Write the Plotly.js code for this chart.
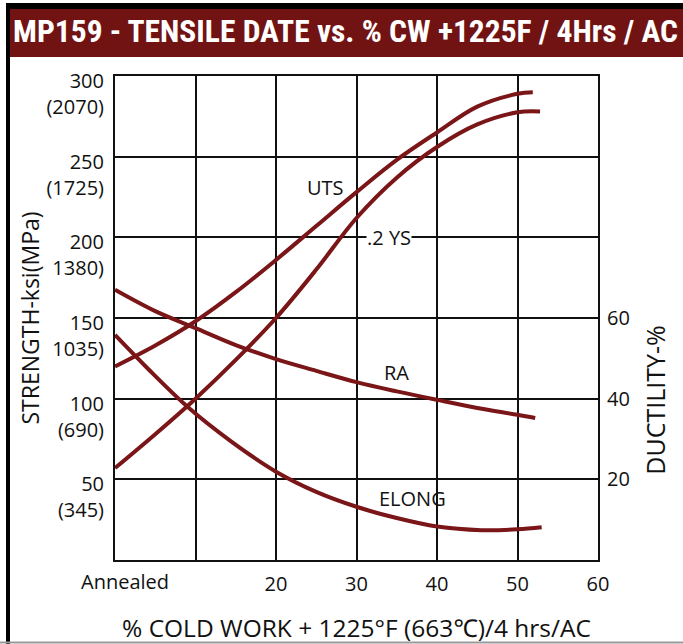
<!DOCTYPE html>
<html>
<head>
<meta charset="utf-8">
<script src="https://cdn.plot.ly/plotly-3.0.1.min.js"></script>
<style>html,body{margin:0;padding:0;background:#fff;}#chart{width:683px;height:644px;}</style>
</head>
<body>
<div id="chart"></div>
<script>
// ---- data ----
const chartTitle = "MP159 - TENSILE DATE vs. % CW +1225F / 4Hrs / AC";
const xTitle = "% COLD WORK + 1225°F (663℃)/4 hrs/AC";
const yTitle = "STRENGTH-ksi(MPa)";
const y2Title = "DUCTILITY-%";

const xTickVals = [0, 10, 20, 30, 40, 50, 60];
const xTickText = ["", "", "20", "30", "40", "50", "60"];
const annealedLabel = "Annealed";

const yTickVals = [0, 50, 100, 150, 200, 250, 300];
const yTickText = ["", "50<br>(345)", "100<br>(690)", "150<br>1035)", "200<br>1380)", "250<br>(1725)", "300<br>(2070)"];
const y2TickVals = [20, 40, 60];
const y2TickText = ["20", "40", "60"];

// Strength, ksi (left axis)
const utsX = [0, 5, 10, 15, 20, 25, 30, 35, 40, 45, 50, 51.9];
const utsY = [120, 133, 148, 166, 186, 207, 228, 248, 265, 281, 289, 290];
const ysX  = [0, 5, 10, 15, 20, 25, 30, 35, 40, 45, 50, 52.8];
const ysY  = [57, 78, 100, 124, 150, 180, 212, 237, 256, 270, 277.5, 278];

// Ductility, % (right axis)
const raX = [0, 5, 10, 15, 20, 25, 30, 35, 40, 45, 50, 52.2];
const raY = [67, 61.7, 57.5, 53.3, 49.8, 46.9, 44.1, 41.8, 39.7, 37.7, 36.0, 35.2];
const elX = [0, 4, 9, 14.5, 20, 25, 30, 35, 40, 45.5, 50, 53];
const elY = [55.8, 47.6, 38.0, 29.3, 21.9, 16.9, 13.2, 10.4, 8.3, 7.4, 7.6, 8.1];

// curve labels
const curveLabels = [
  {text: "UTS",   x: 26.1, y: 231, axis: "y"},
  {text: ".2 YS", x: 34.0, y: 200, axis: "y"},
  {text: "RA",    x: 35.0, y: 46.5, axis: "y2"},
  {text: "ELONG", x: 36.9, y: 15.2, axis: "y2"}
];

// ---- styling ----
const RED = "#7a1518";
const FONT = "Open Sans, Noto Sans, DejaVu Sans, sans-serif";
const lineStyle = {color: RED, width: 4, shape: "spline", smoothing: 1};

const traces = [
  {x: utsX, y: utsY, name: "UTS", mode: "lines", line: lineStyle, yaxis: "y"},
  {x: ysX, y: ysY, name: ".2 YS", mode: "lines", line: lineStyle, yaxis: "y"},
  {x: raX, y: raY, name: "RA", mode: "lines", line: lineStyle, yaxis: "y2"},
  {x: elX, y: elY, name: "ELONG", mode: "lines", line: lineStyle, yaxis: "y2"}
];

const L = 115, R = 85, T = 76, B = 84, W = 683, H = 644;
const pw = W - L - R, ph = H - T - B;
const px = v => (v - L) / pw;           // pixel x -> paper
const py = v => (H - B - v) / ph;        // pixel y -> paper

const annotations = curveLabels.map(c => ({
  text: c.text, x: c.x, y: c.y, xref: "x", yref: c.axis,
  showarrow: false, font: {family: FONT, size: 20, color: "#111"},
  bgcolor: c.text === ".2 YS" ? "#fff" : "rgba(0,0,0,0)", borderpad: 0
}));
annotations.push({
  text: annealedLabel, x: 0, y: 0, xref: "x", yref: "paper",
  xshift: 10, yanchor: "middle", yshift: -21, showarrow: false,
  font: {family: FONT, size: 20, color: "#111"}
});
annotations.push({
  text: y2Title, x: px(655), y: 39.5, xref: "paper", yref: "y2",
  xanchor: "center", yanchor: "middle",
  textangle: -90, showarrow: false, font: {family: FONT, size: 25, color: "#111"}
});

const shapes = [
  // title bar
  {type: "rect", xref: "paper", yref: "paper", x0: px(7), x1: px(690), y0: py(57), y1: py(9),
   fillcolor: "#721313", line: {width: 0}, layer: "below"},
  // top black band
  {type: "rect", xref: "paper", yref: "paper", x0: px(7), x1: px(690), y0: py(9), y1: py(3),
   fillcolor: "#000", line: {width: 0}, layer: "below"},
  // left black border
  {type: "rect", xref: "paper", yref: "paper", x0: px(6), x1: px(10), y0: py(650), y1: py(3),
   fillcolor: "#000", line: {width: 0}, layer: "below"},
  // bottom grey line
  {type: "line", xref: "paper", yref: "paper", x0: px(0), x1: px(690), y0: py(642.5), y1: py(642.5),
   line: {color: "#9a9a9a", width: 2}, layer: "below"}
];

const layout = {
  width: W, height: H,
  margin: {l: L, r: R, t: T, b: B, pad: 0},
  paper_bgcolor: "#fff", plot_bgcolor: "#fff",
  showlegend: false,
  font: {family: FONT, color: "#111"},
  title: {text: chartTitle, xref: "container", yref: "container",
          x: 13 / W, xanchor: "left", y: 1 - 31 / H, yanchor: "middle",
          font: {family: "Liberation Sans Narrow, Roboto Condensed, Liberation Sans, sans-serif", size: 31.5, color: "#fff", weight: "bold"}},
  xaxis: {
    range: [0, 60], tickvals: xTickVals, ticktext: xTickText,
    showgrid: true, gridcolor: "#111", gridwidth: 2,
    showline: true, linecolor: "#111", linewidth: 2, mirror: true,
    zeroline: false, ticks: "", ticklen: 0, ticklabelstandoff: 5,
    tickfont: {family: FONT, size: 20, color: "#111"},
    title: {text: xTitle, standoff: 29, font: {family: FONT, size: 24.5, color: "#111"}}
  },
  yaxis: {
    range: [0, 300], tickvals: yTickVals, ticktext: yTickText,
    showgrid: true, gridcolor: "#111", gridwidth: 2,
    showline: true, linecolor: "#111", linewidth: 2, mirror: true,
    zeroline: false, ticks: "", ticklen: 0, ticklabelstandoff: 5, ticklabelshift: 18,
    tickfont: {family: FONT, size: 20, color: "#111"},
    title: {text: yTitle, standoff: 0, font: {family: FONT, size: 23, color: "#111"}}
  },
  yaxis2: {
    range: [0, 120], tickvals: y2TickVals, ticktext: y2TickText,
    overlaying: "y", side: "right", showgrid: false, zeroline: false,
    showline: false, ticks: "", ticklen: 0, ticklabelstandoff: 8,
    tickfont: {family: FONT, size: 20, color: "#111"}
  },
  annotations: annotations,
  shapes: shapes
};

Plotly.newPlot("chart", traces, layout, {displayModeBar: false, staticPlot: true});
</script>
</body>
</html>
